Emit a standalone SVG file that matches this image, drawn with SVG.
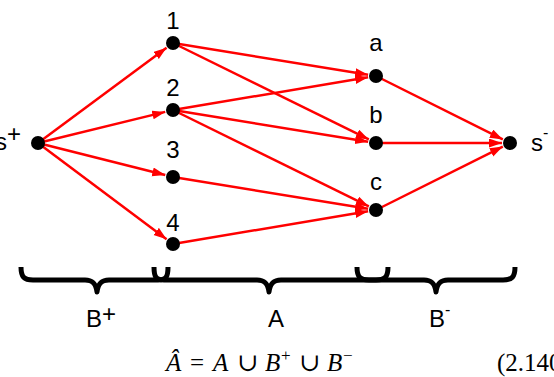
<svg xmlns="http://www.w3.org/2000/svg" width="554" height="377" viewBox="0 0 554 377">
<style>
.e{stroke:#ff0000;stroke-width:2.5;fill:none;marker-end:url(#ah)}
.d{fill:#000}
.l{font-family:"Liberation Sans",Arial,sans-serif;font-size:24px;fill:#000}
.br{fill:none;stroke:#000;stroke-width:5;stroke-linejoin:round;stroke-linecap:butt}
.m{font-family:"Liberation Serif","DejaVu Serif",serif;font-size:25px;fill:#000}
.i{font-style:italic}
.s{font-size:17px}
</style>
<defs>
<marker id="ah" markerUnits="userSpaceOnUse" markerWidth="14" markerHeight="10" refX="13" refY="4.5" orient="auto">
<path d="M0,0 L13,4.5 L0,9 z" fill="#ff0000"/>
</marker>
</defs>
<rect width="554" height="377" fill="#fff"/>
<g id="connectors">
<line class="e" x1="38" y1="143" x2="166.57" y2="47.76"/>
<line class="e" x1="38" y1="143" x2="165.23" y2="111.9"/>
<line class="e" x1="38" y1="143" x2="165.24" y2="175.05"/>
<line class="e" x1="38" y1="143" x2="166.59" y2="239.21"/>
<line class="e" x1="173" y1="43" x2="368.1" y2="74.72"/>
<line class="e" x1="173" y1="43" x2="368.82" y2="139.46"/>
<line class="e" x1="173" y1="110" x2="368.11" y2="77.32"/>
<line class="e" x1="173" y1="110" x2="368.1" y2="141.72"/>
<line class="e" x1="173" y1="110" x2="368.82" y2="206.46"/>
<line class="e" x1="173" y1="177" x2="368.1" y2="208.72"/>
<line class="e" x1="173" y1="244" x2="368.11" y2="211.32"/>
<line class="e" x1="376" y1="76" x2="502.84" y2="139.42"/>
<line class="e" x1="376" y1="143" x2="502" y2="143"/>
<line class="e" x1="376" y1="210" x2="502.84" y2="146.58"/>
</g>
<g id="node-splus"><circle class="d" cx="38" cy="143" r="7"/><text class="l" x="-5" y="150">s<tspan dy="-8">+</tspan></text></g>
<g id="node-1"><circle class="d" cx="173" cy="43" r="7"/><text class="l" x="173" y="29" text-anchor="middle">1</text></g>
<g id="node-2"><circle class="d" cx="173" cy="110" r="7"/><text class="l" x="173" y="96" text-anchor="middle">2</text></g>
<g id="node-3"><circle class="d" cx="173" cy="177" r="7"/><text class="l" x="173" y="158" text-anchor="middle">3</text></g>
<g id="node-4"><circle class="d" cx="173" cy="244" r="7"/><text class="l" x="173" y="231" text-anchor="middle">4</text></g>
<g id="node-a"><circle class="d" cx="376" cy="76" r="7"/><text class="l" x="376" y="51" text-anchor="middle">a</text></g>
<g id="node-b"><circle class="d" cx="376" cy="143" r="7"/><text class="l" x="376" y="123" text-anchor="middle">b</text></g>
<g id="node-c"><circle class="d" cx="376" cy="210" r="7"/><text class="l" x="376" y="190" text-anchor="middle">c</text></g>
<g id="node-sminus"><circle class="d" cx="510" cy="143" r="7"/><text class="l" x="531" y="151">s<tspan font-size="16" dy="-13">-</tspan></text></g>
<g id="braces">
<path class="br" d="M21,267 C21,277 24,280 33,280 L85,280 C93,280 96,284 97,292 C98,284 101,280 109,280 L158,280 C166,280 168,277 168,267"/>
<path class="br" d="M154,267 C154,277 156,280 164,280 L257,280 C265,280 268,284 269,292 C270,284 273,280 281,280 L376,280 C385,280 388,277 388,267"/>
<path class="br" d="M357,267 C357,277 360,280 369,280 L424,280 C432,280 435,284 436,292 C437,284 440,280 448,280 L503,280 C512,280 515,277 515,267"/>
</g>
<g id="labels">
<text class="l" x="86" y="327">B<tspan dy="-5">+</tspan></text>
<text class="l" x="276" y="327" text-anchor="middle">A</text>
<text class="l" x="429" y="327">B<tspan font-size="16" dy="-12">-</tspan></text>
<text class="m" y="371"><tspan class="i" x="166">Â</tspan><tspan x="190">=</tspan><tspan class="i" x="213">A</tspan><tspan x="237">∪</tspan><tspan class="i" x="265">B</tspan><tspan class="s" x="281" dy="-10">+</tspan><tspan x="299" dy="10">∪</tspan><tspan class="i" x="327">B</tspan><tspan class="s" x="343" dy="-10">−</tspan></text>
<text class="m" x="497" y="371">(2.140</text>
</g>
</svg>
